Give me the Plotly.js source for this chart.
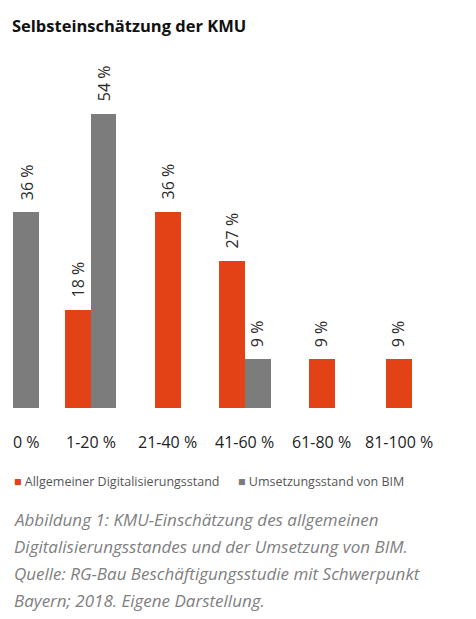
<!DOCTYPE html>
<html>
<head>
<meta charset="utf-8">
<script src="https://cdn.plot.ly/plotly-3.0.1.min.js"></script>
<style>html,body{margin:0;padding:0;background:#fff;}#chart{width:476px;height:619px;}</style>
</head>
<body>
<div id="chart"></div>
<script>
// ---- data ----
const categories = ["0 %", "1-20 %", "21-40 %", "41-60 %", "61-80 %", "81-100 %"];
const digitalisierung = [null, 18, 36, 27, 9, 9];
const bim = [36, 54, null, 9, null, null];
const seriesNames = ["Allgemeiner Digitalisierungsstand", "Umsetzungsstand von BIM"];
const titleText = "Selbsteinschätzung der KMU";
const captionLines = [
  "Abbildung 1: KMU-Einschätzung des allgemeinen",
  "Digitalisierungsstandes und der Umsetzung von BIM.",
  "Quelle: RG-Bau Beschäftigungsstudie mit Schwerpunkt",
  "Bayern; 2018. Eigene Darstellung."
];

// ---- styling ----
const ORANGE = "#e34216";
const GRAY = "#7d7c7c";
const FONT = "Open Sans, Noto Sans, sans-serif";
const W = 0.337; // bar width in category units

const has = v => v !== null && v !== undefined;

// gray always sits right of centre; orange left of centre when paired, else centred
const orangeOffset = categories.map((c, i) => has(bim[i]) ? -W : -W / 2);
const grayOffset = categories.map(() => 0);

const traces = [
  {type: "bar", x: categories, y: digitalisierung, name: seriesNames[0],
   marker: {color: ORANGE}, width: W, offset: orangeOffset, showlegend: false,
   hoverinfo: "skip"},
  {type: "bar", x: categories, y: bim, name: seriesNames[1],
   marker: {color: GRAY}, width: W, offset: grayOffset, showlegend: false,
   hoverinfo: "skip"}
];

const annotations = [];
// value labels
function addValueLabels(vals, offs) {
  vals.forEach((v, i) => {
    if (!has(v)) return;
    annotations.push({
      x: i + offs[i] + W / 2, xref: "x", y: v, yref: "y",
      text: v + " %", showarrow: false, textangle: -90,
      xanchor: "center", yanchor: "bottom", yshift: 10,
      font: {family: FONT, size: 16, color: "#2b2b2b"}
    });
  });
}
addValueLabels(digitalisierung, orangeOffset);
addValueLabels(bim, grayOffset);

// category labels centred under drawn bars
categories.forEach((c, i) => {
  const d = has(digitalisierung[i]), b = has(bim[i]);
  let cx = i;
  if (b && !d) cx = i + W / 2;
  annotations.push({
    x: cx, xref: "x", y: 0, yref: "y", yshift: -34,
    text: c, showarrow: false, xanchor: "center", yanchor: "middle",
    font: {family: FONT, size: 16, color: "#222222"}
  });
});

// legend
const legendX = [12, 236];
const legendColors = [ORANGE, GRAY];
seriesNames.forEach((n, k) => {
  annotations.push({
    x: legendX[k] / 476, xref: "paper", y: 0, yref: "y", yshift: -73,
    xanchor: "left", yanchor: "middle", showarrow: false,
    text: '<span style="color:' + legendColors[k] + '">■</span> ' + n,
    font: {family: FONT, size: 12.5, color: "#555555"}
  });
});

// caption
captionLines.forEach((line, k) => {
  annotations.push({
    x: 12 / 476, xref: "paper", y: 0, yref: "y", yshift: -(111 + 27 * k),
    xanchor: "left", yanchor: "middle", showarrow: false,
    text: line,
    font: {family: FONT, size: 17, color: "#808080", style: "italic"}
  });
});

const layout = {
  width: 476, height: 619,
  margin: {l: 0, r: 0, t: 81, b: 211},
  paper_bgcolor: "#ffffff", plot_bgcolor: "#ffffff",
  title: {text: titleText, x: 12 / 476, xref: "container", xanchor: "left",
          y: 1 - 26 / 619, yref: "container", yanchor: "middle",
          font: {family: FONT, size: 16.5, color: "#111111", weight: 700}},
  xaxis: {type: "category", range: [-0.174, 6.0], showticklabels: false,
          showgrid: false, zeroline: false, showline: false, ticks: "", fixedrange: true},
  yaxis: {range: [0, 60], visible: false, showgrid: false, zeroline: false, fixedrange: true},
  bargap: 0, barmode: "overlay",
  showlegend: false,
  annotations: annotations
};

Plotly.newPlot("chart", traces, layout, {displayModeBar: false, staticPlot: true});
</script>
</body>
</html>
